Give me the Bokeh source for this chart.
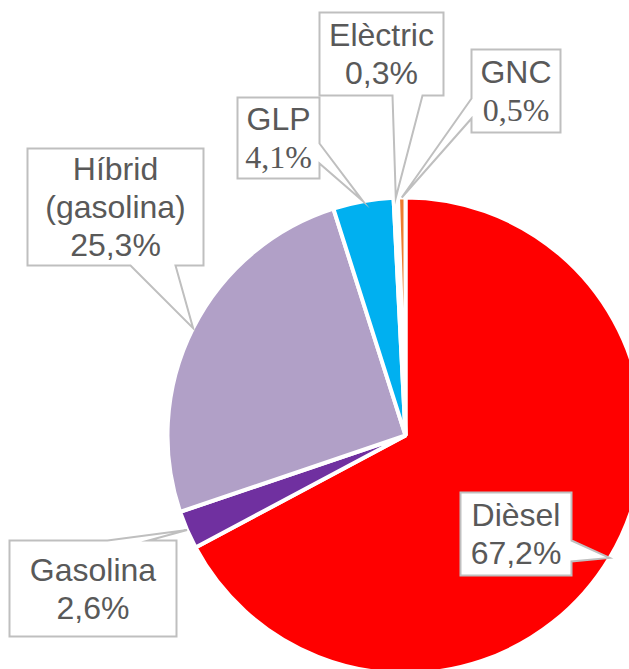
import math
from bokeh.plotting import figure
from bokeh.models import Range1d
from bokeh.core.properties import value
from bokeh.embed import file_html
from bokeh.resources import INLINE

# ---- data ----
categories = ["Dièsel", "Gasolina", "Híbrid (gasolina)", "GLP", "Elèctric", "GNC"]
label_lines = [["Dièsel"], ["Gasolina"], ["Híbrid", "(gasolina)"], ["GLP"], ["Elèctric"], ["GNC"]]
shares = [67.2, 2.6, 25.3, 4.1, 0.3, 0.5]
colors = ["#FF0000", "#7030A0", "#B1A0C7", "#00B0F0", "#F2F2F2", "#ED7D31"]
value_serif = [False, False, False, True, False, True]

# ---- layout (page pixels) ----
W, H = 629, 669
OFF = 0
CX, CY, R = 405, 435, 236
TXT = "#595959"
BORDER = "#BFBFBF"

# box (x0, y0, x1, y1), notch side, notch start, notch end
callouts = [
    ((460, 492, 571, 575), "right", 540, 561),
    ((9, 540, 176, 636), "top", 107, 148),
    ((27, 148, 203, 265), "bottom", 130, 175),
    ((237, 97, 319, 178), "right", 143, 163),
    ((319, 12, 443, 95), "bottom", 392, 422),
    ((471, 49, 560, 132), "left", 98, 118),
]


def dx(px):
    return px - OFF


def dy(py):
    return (OFF + H) - py


p = figure(width=W, height=H, output_backend="svg", toolbar_location=None,
           x_range=Range1d(0, W), y_range=Range1d(0, H),
           x_axis_location=None, y_axis_location=None, min_border=0)
p.grid.visible = False
p.outline_line_color = None
p.background_fill_color = "white"

# wedges, clockwise from 12 o'clock
total = sum(shares)
starts, ends, mids = [], [], []
acc = 0.0
for s in shares:
    a0 = acc / total * 2 * math.pi
    acc += s
    a1 = acc / total * 2 * math.pi
    starts.append(math.pi / 2 - a0)
    ends.append(math.pi / 2 - a1)
    mids.append((a0 + a1) / 2)

p.wedge(x=dx(CX), y=dy(CY), radius=R + 2, start_angle=starts, end_angle=ends,
        direction="clock", fill_color=colors, line_color="white", line_width=4)

# callouts
xs_all, ys_all = [], []
for (box, side, na, nb), m in zip(callouts, mids):
    x0, y0, x1, y1 = box
    tx = CX + (R + 2) * math.sin(m)
    ty = CY - (R + 2) * math.cos(m)
    pts = [(x0, y0)]
    if side == "top":
        pts += [(na, y0), (tx, ty), (nb, y0)]
    pts.append((x1, y0))
    if side == "right":
        pts += [(x1, na), (tx, ty), (x1, nb)]
    pts.append((x1, y1))
    if side == "bottom":
        pts += [(nb, y1), (tx, ty), (na, y1)]
    pts.append((x0, y1))
    if side == "left":
        pts += [(x0, nb), (tx, ty), (x0, na)]
    xs_all.append([dx(a) for a, b in pts])
    ys_all.append([dy(b) for a, b in pts])

p.patches(xs=xs_all, ys=ys_all, fill_color="white", line_color=BORDER,
          line_width=2, line_join="miter")

# texts
LS = 38
sans_x, sans_y, sans_t = [], [], []
serif_x, serif_y, serif_t = [], [], []
for (box, side, na, nb), lines, v, serif in zip(callouts, label_lines, shares, value_serif):
    x0, y0, x1, y1 = box
    vs = f"{v:.1f}".replace(".", ",") + "%"
    all_lines = lines + [vs]
    n = len(all_lines)
    cxb = (x0 + x1) / 2
    cyb = (y0 + y1) / 2
    for i, t in enumerate(all_lines):
        yy = cyb + (i - (n - 1) / 2) * LS
        if i == n - 1 and serif:
            serif_x.append(dx(cxb)); serif_y.append(dy(yy)); serif_t.append(t)
        else:
            sans_x.append(dx(cxb)); sans_y.append(dy(yy)); sans_t.append(t)

p.text(x=sans_x, y=sans_y, text=sans_t, text_font=value("Liberation Sans"),
       text_font_size="32px", text_color=TXT, text_align="center",
       text_baseline="middle")
p.text(x=serif_x, y=serif_y, text=serif_t, text_font=value("Liberation Serif"),
       text_font_size="32px", text_color=TXT, text_align="center",
       text_baseline="middle")

open("out.html", "w").write(file_html(p, INLINE))
